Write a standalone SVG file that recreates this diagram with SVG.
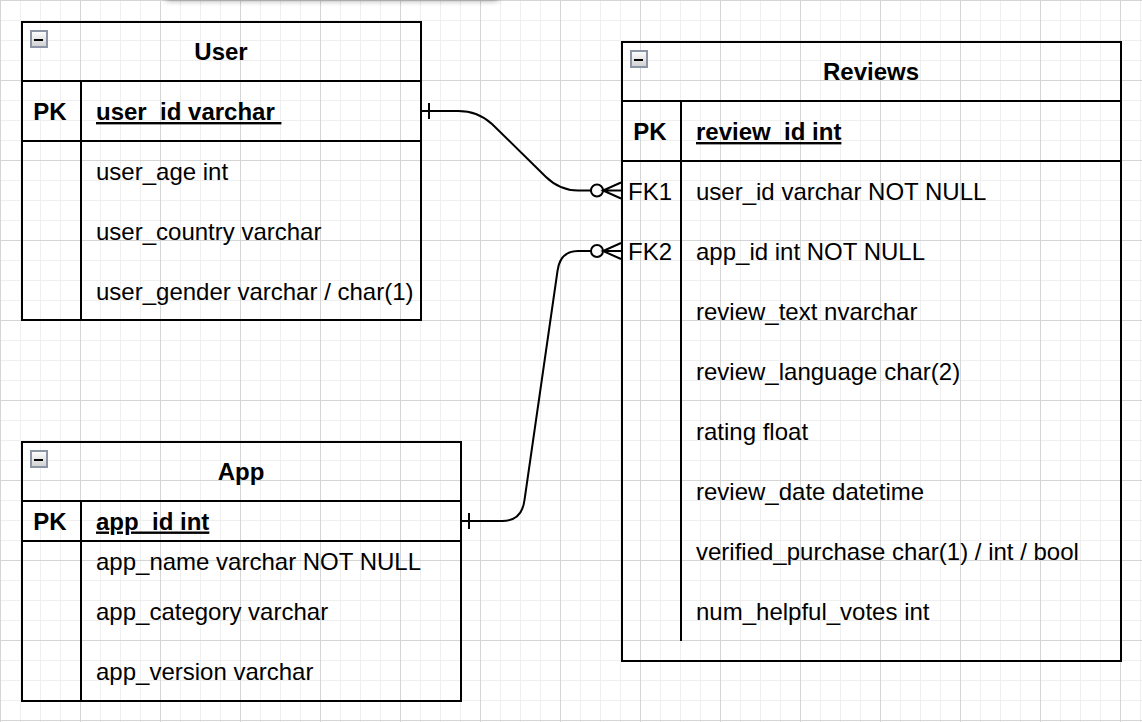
<svg xmlns="http://www.w3.org/2000/svg" width="1142" height="722" viewBox="0 0 1142 722">
<style>
.box{fill:none;stroke:#000;stroke-width:2}
.t{font-family:"Liberation Sans",Arial,Helvetica,sans-serif;font-size:24px;fill:#000}
.b{font-weight:bold}
.c{text-anchor:middle}
.u{text-decoration:underline;white-space:pre}
.edge{fill:none;stroke:#000;stroke-width:2}
</style>
<defs>
<pattern id="gMinor" width="20" height="20" patternUnits="userSpaceOnUse"><rect width="20" height="1" fill="#efefef"/><rect width="1" height="20" fill="#efefef"/></pattern>
<pattern id="gMajor" width="80" height="80" patternUnits="userSpaceOnUse"><rect width="80" height="1" fill="#d5d5d5"/><rect width="1" height="80" fill="#d5d5d5"/></pattern>
<linearGradient id="ig" x1="0" y1="0" x2="0" y2="1"><stop offset="0" stop-color="#ffffff"/><stop offset="1" stop-color="#cfcfcf"/></linearGradient>
<filter id="sh" x="-20%" y="-200%" width="140%" height="500%"><feGaussianBlur stdDeviation="3"/></filter>
<g id="collapse"><rect x="1" y="1" width="16" height="16" fill="url(#ig)" stroke="#8c95a6" stroke-width="2"/><rect x="4" y="9" width="9" height="2" fill="#000"/></g>
</defs>
<rect width="1142" height="722" fill="#fff"/>
<rect width="1142" height="722" fill="url(#gMinor)"/>
<rect width="1142" height="722" fill="url(#gMajor)"/>
<rect x="166" y="-14" width="332" height="14" fill="#000" opacity="0.45" filter="url(#sh)"/>

<g id="connectors">
<path class="edge" d="M421,111 L458,111 Q478,111 492,124 L546,177 Q560,190.5 578,190.5 L591,190.5"/>
<path class="edge" d="M429,103 L429,119"/>
<circle class="edge" cx="597" cy="190.5" r="6"/>
<path class="edge" d="M621,182.5 L603,190.5 L621,198.5 M603,190.5 L621,190.5"/>
<path class="edge" d="M461,521 L502,521 Q522,521 524.5,500 L557.5,271 Q560,251 578,251 L591,251"/>
<path class="edge" d="M469,513 L469,529"/>
<circle class="edge" cx="597" cy="251" r="6"/>
<path class="edge" d="M621,243 L603,251 L621,259 M603,251 L621,251"/>
</g>

<g id="user">
<rect class="box" x="22" y="22" width="399" height="298"/>
<path class="box" d="M22,81 L421,81 M22,141 L421,141 M81,81 L81,320"/>
<use href="#collapse" x="30" y="30"/>
<text class="t b c" x="221" y="60">User</text>
<text class="t b c" x="50" y="120">PK</text>
<text class="t b u" x="96" y="120">user_id varchar </text>
<text class="t" x="96" y="180">user_age int</text>
<text class="t" x="96" y="240">user_country varchar</text>
<text class="t" x="96" y="300">user_gender varchar / char(1)</text>
</g>

<g id="app">
<rect class="box" x="22" y="442" width="439" height="259"/>
<path class="box" d="M22,501 L461,501 M22,541 L461,541 M81,501 L81,701"/>
<use href="#collapse" x="30" y="450"/>
<text class="t b c" x="241" y="480">App</text>
<text class="t b c" x="50" y="529.5">PK</text>
<text class="t b u" x="96" y="529.5">app_id int</text>
<text class="t" x="96" y="569.5">app_name varchar NOT NULL</text>
<text class="t" x="96" y="620">app_category varchar</text>
<text class="t" x="96" y="680">app_version varchar</text>
</g>

<g id="reviews">
<rect class="box" x="622" y="42" width="499" height="619"/>
<path class="box" d="M622,101 L1121,101 M622,161 L1121,161 M681,101 L681,641"/>
<use href="#collapse" x="630" y="50"/>
<text class="t b c" x="871" y="80">Reviews</text>
<text class="t b c" x="650" y="140">PK</text>
<text class="t b u" x="696" y="140">review_id int</text>
<text class="t c" x="650" y="200">FK1</text>
<text class="t" x="696" y="200">user_id varchar NOT NULL</text>
<text class="t c" x="650" y="260">FK2</text>
<text class="t" x="696" y="260">app_id int NOT NULL</text>
<text class="t" x="696" y="320">review_text nvarchar</text>
<text class="t" x="696" y="380">review_language char(2)</text>
<text class="t" x="696" y="440">rating float</text>
<text class="t" x="696" y="500">review_date datetime</text>
<text class="t" x="696" y="560">verified_purchase char(1) / int / bool</text>
<text class="t" x="696" y="620">num_helpful_votes int</text>
</g>
</svg>
